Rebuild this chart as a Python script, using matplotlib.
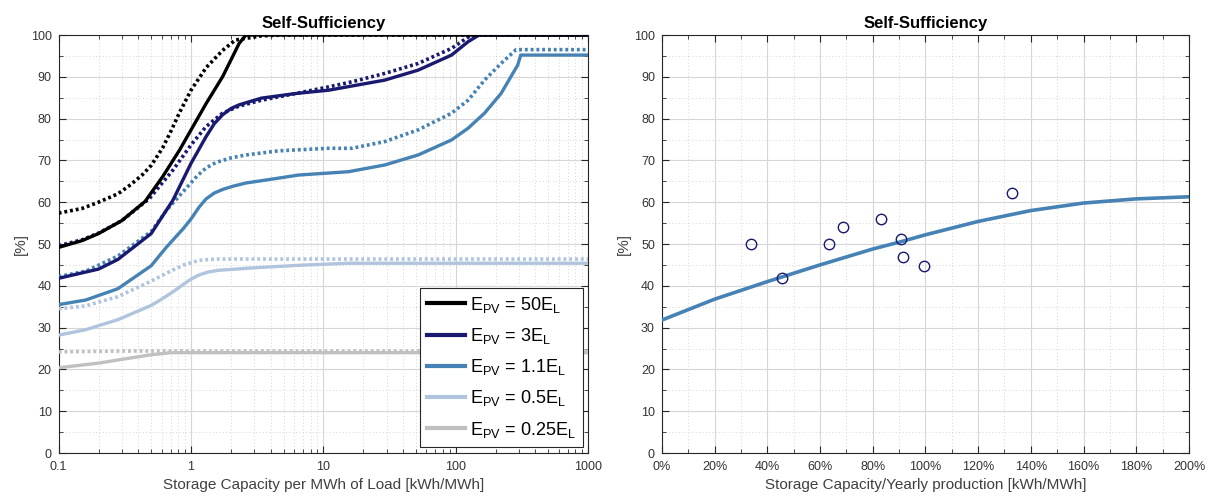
"""
Self-sufficiency vs storage capacity, two panels
"""

import matplotlib
matplotlib.use('Agg')
import matplotlib.pyplot as plt
from matplotlib import rc
from matplotlib.ticker import MultipleLocator, NullFormatter, FuncFormatter

rc('font', family='Liberation Sans', size=9)
rc('mathtext', fontset='custom', rm='Liberation Sans', it='Liberation Sans')

# ---- left panel: storage per MWh of load (log x) ----
x_50 = [0.1, 0.15, 0.2, 0.3, 0.45, 0.61, 0.82, 1.0, 1.3, 1.73, 2.0, 2.31, 2.6, 5, 1000]
y_50 = [49.2, 50.8, 52.5, 55.6, 60.2, 66.1, 72.5, 77.3, 83.6, 90, 94, 98, 100, 100, 100]
x_50d = [0.1, 0.15, 0.2, 0.28, 0.35, 0.43, 0.5, 0.61, 0.7, 0.82, 1.0, 1.3, 1.73, 2.16, 3.4, 5, 1000]
y_50d = [57.4, 58.5, 60, 62, 64.2, 66.6, 68.8, 73, 76.8, 81.5, 86.8, 92.2, 96.3, 98.8, 99.8, 100, 100]

x_3 = [0.1, 0.2, 0.28, 0.5, 0.73, 1.0, 1.3, 1.5, 1.73, 2.0, 2.31, 3.4, 6.15, 11, 16.4, 29, 52,
       93, 124, 150, 1000]
y_3 = [41.8, 44, 46.3, 52.5, 60.5, 69.3, 75.7, 78.8, 80.9, 82.4, 83.3, 84.9, 86, 86.8, 87.8,
       89.2, 91.6, 95.2, 98.4, 100, 100]
x_3d = [0.1, 0.15, 0.2, 0.3, 0.485, 0.73, 1.0, 1.3, 1.73, 2.31, 3.4, 6.15, 11, 16.4, 29, 52,
        93, 131, 1000]
y_3d = [49.6, 51, 52.6, 55.6, 60.9, 67.7, 73.7, 78.1, 81.3, 83, 84.4, 86, 87.6, 88.8, 90.8,
        93.2, 96.8, 100, 100]

x_11 = [0.1, 0.16, 0.28, 0.5, 0.65, 0.88, 1.0, 1.15, 1.3, 1.5, 1.75, 2.06, 2.6, 3.67, 6.5,
        15.5, 29, 52, 93, 124, 165, 220, 294, 310, 1000]
y_11 = [35.5, 36.6, 39.3, 44.8, 49.2, 53.8, 56, 58.8, 60.8, 62.2, 63.1, 63.8, 64.6, 65.3, 66.5,
        67.3, 68.9, 71.3, 74.9, 77.7, 81.3, 86, 92.8, 95.2, 95.2]
x_11d = [0.1, 0.16, 0.28, 0.5, 0.65, 0.87, 1.12, 1.3, 1.54, 2.0, 2.59, 4.6, 11, 16.4, 29, 52,
         93, 124, 165, 220, 286, 1000]
y_11d = [42.2, 43.5, 47.1, 53, 58, 62.5, 66.4, 68.2, 69.5, 70.6, 71.3, 72.3, 72.9, 72.9, 74.5,
         77.3, 81.3, 84.4, 89.2, 93.2, 96.5, 96.5]

x_05 = [0.1, 0.16, 0.28, 0.5, 0.6, 0.75, 0.88, 1.0, 1.15, 1.35, 1.6, 2.95, 6.5, 15.5, 1000]
y_05 = [28.2, 29.5, 31.9, 35.3, 36.8, 38.8, 40.4, 41.6, 42.6, 43.3, 43.7, 44.3, 44.9, 45.4, 45.4]
x_05d = [0.1, 0.16, 0.28, 0.49, 0.7, 0.88, 1.15, 1.54, 1000]
y_05d = [34.5, 35.2, 37.4, 41, 43.5, 45, 46.1, 46.4, 46.4]

x_025 = [0.1, 0.2, 0.3, 0.5, 0.7, 1000]
y_025 = [20.4, 21.5, 22.4, 23.5, 24, 24]
x_025d = [0.1, 0.3, 1000]
y_025d = [24.2, 24.4, 24.4]

labels_left = [r'E$_{\mathrm{PV}}$ = 50E$_{\mathrm{L}}$',
               r'E$_{\mathrm{PV}}$ = 3E$_{\mathrm{L}}$',
               r'E$_{\mathrm{PV}}$ = 1.1E$_{\mathrm{L}}$',
               r'E$_{\mathrm{PV}}$ = 0.5E$_{\mathrm{L}}$',
               r'E$_{\mathrm{PV}}$ = 0.25E$_{\mathrm{L}}$']
colors = ['#000000', '#191970', '#4682b4', '#b0c4de', '#c0c0c0']

# ---- right panel: storage / yearly production ----
x_fit = [0, 20, 40, 60, 80, 91, 100, 120, 140, 160, 180, 200]
y_fit = [31.8, 36.8, 41, 45, 48.8, 50.6, 52.2, 55.4, 58, 59.8, 60.8, 61.3]
x_pts = [33.7, 45.5, 63.5, 68.6, 83, 90.8, 91.5, 99.3, 132.7]
y_pts = [50, 41.8, 50, 54, 56, 51.1, 46.9, 44.8, 62.1]

AX_COLOR = '#262626'


def style_axes(ax):
    for s in ax.spines.values():
        s.set_color(AX_COLOR)
        s.set_linewidth(0.8)
    ax.tick_params(which='both', direction='in', top=True, right=True, colors=AX_COLOR,
                   labelsize=9, labelcolor='#333333')
    ax.tick_params(which='major', length=5, width=0.8)
    ax.tick_params(which='minor', length=3, width=0.6)
    ax.tick_params(axis='x', pad=6)
    ax.tick_params(axis='y', pad=5)
    ax.grid(which='major', color='#d6d6d6', linewidth=0.8, linestyle='-')
    ax.grid(which='minor', color='#c8c8c8', linewidth=0.6, linestyle=(0, (1, 3)))
    ax.set_axisbelow(True)
    ax.set_ylim(0, 100)
    ax.yaxis.set_major_locator(MultipleLocator(10))
    ax.yaxis.set_minor_locator(MultipleLocator(5))
    ax.set_ylabel('[%]', fontsize=11, color='#404040', labelpad=2)
    ax.set_title('Self-Sufficiency', fontsize=12, fontweight='bold', pad=5)


fig = plt.figure(figsize=(12.1, 5.01), dpi=100)
ax1 = fig.add_axes([0.0485, 0.0958, 0.4375, 0.8343])
ax2 = fig.add_axes([0.547, 0.0958, 0.4356, 0.8343])

solids = [(x_50, y_50), (x_3, y_3), (x_11, y_11), (x_05, y_05), (x_025, y_025)]
dotted = [(x_50d, y_50d), (x_3d, y_3d), (x_11d, y_11d), (x_05d, y_05d), (x_025d, y_025d)]

# draw from the bottom curve up so darker lines sit on top
for i in reversed(range(5)):
    ax1.plot(*dotted[i], color=colors[i], linewidth=2.6, linestyle=(0, (0.8, 0.8)),
             zorder=3)
    ax1.plot(*solids[i], color=colors[i], linewidth=2.4, zorder=4)

style_axes(ax1)
ax1.set_xscale('log')
ax1.set_xlim(0.1, 1000)
ax1.xaxis.set_major_formatter(FuncFormatter(lambda v, p: f'{v:g}'))
ax1.xaxis.set_minor_formatter(NullFormatter())
ax1.set_xlabel('Storage Capacity per MWh of Load [kWh/MWh]', fontsize=11, color='#404040',
               labelpad=3)

handles = [plt.Line2D([], [], color=c, linewidth=3) for c in colors]
leg = ax1.legend(handles, labels_left, loc='lower right', fontsize=13, frameon=True,
                 fancybox=False, handlelength=2.1, handletextpad=0.3,
                 borderpad=0.4, labelspacing=0.62, borderaxespad=0,
                 bbox_to_anchor=(0.991, 0.015))
leg.get_frame().set_edgecolor(AX_COLOR)
leg.get_frame().set_linewidth(0.8)
leg.get_frame().set_alpha(1)

ax2.plot(x_fit, y_fit, color='#4682b4', linewidth=2.6, zorder=3)
ax2.plot(x_pts, y_pts, linestyle='none', marker='o', markersize=7.5,
         markerfacecolor='none', markeredgecolor='#191970', markeredgewidth=1, zorder=4)
style_axes(ax2)
ax2.set_xlim(0, 200)
ax2.xaxis.set_major_locator(MultipleLocator(20))
ax2.xaxis.set_minor_locator(MultipleLocator(10))
ax2.xaxis.set_major_formatter(FuncFormatter(lambda v, p: f'{v:.0f}%'))
ax2.set_xlabel('Storage Capacity/Yearly production [kWh/MWh]', fontsize=11, color='#404040',
               labelpad=3)

fig.savefig('out.png', dpi=100)
plt.close(fig)
